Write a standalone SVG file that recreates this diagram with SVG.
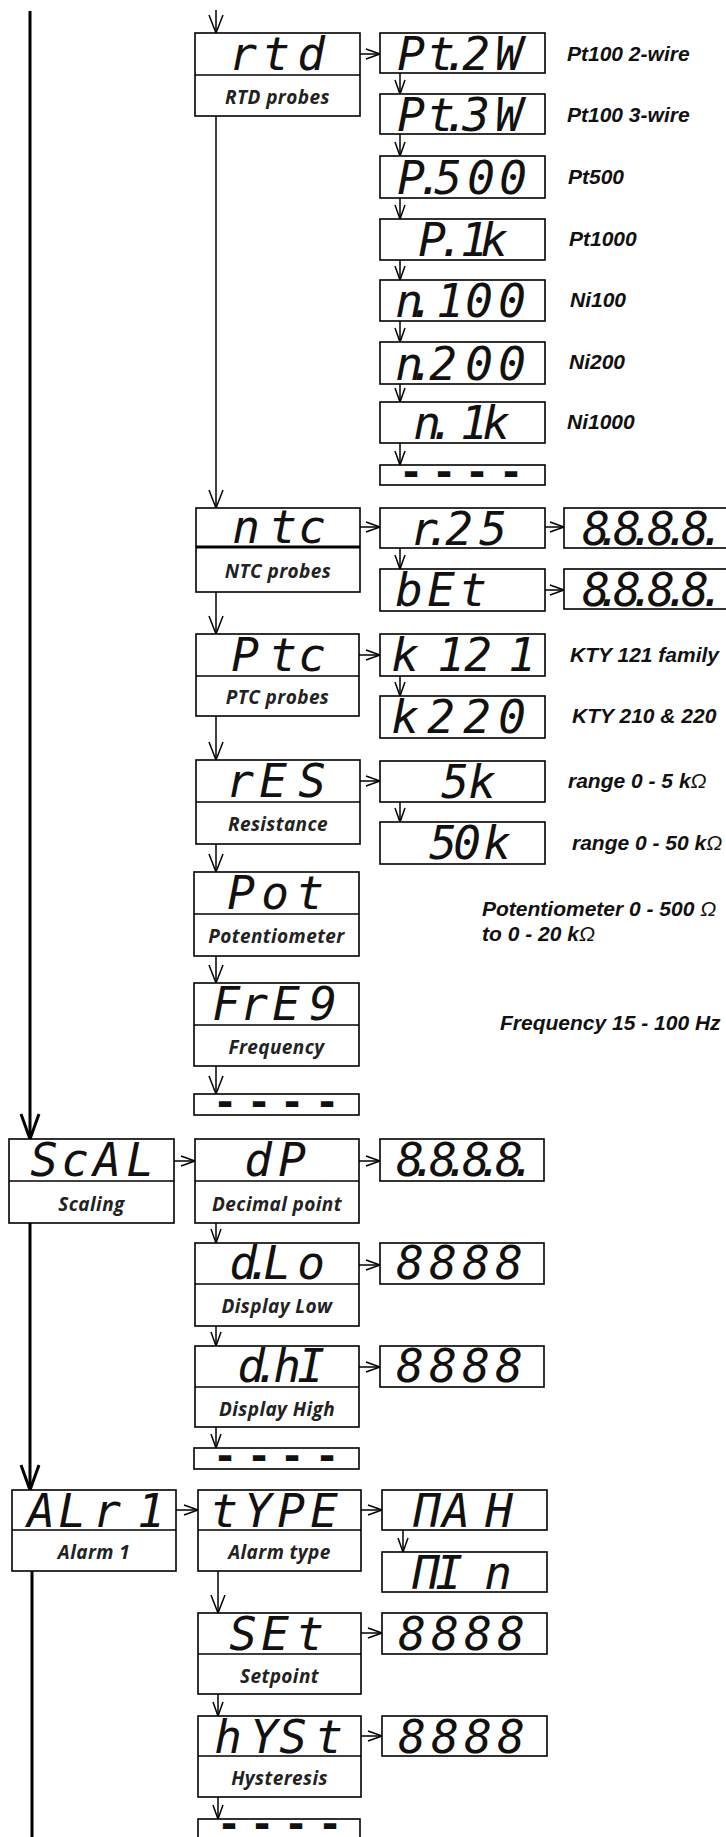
<svg xmlns="http://www.w3.org/2000/svg" width="726" height="1837" viewBox="0 0 726 1837">
<style>
.box{fill:#fff;stroke:#000;stroke-width:1.6}
.dv{stroke:#000;stroke-width:1.6}
.seg{font-family:"DejaVu Sans Mono","Liberation Mono",monospace;font-style:italic;font-size:46px;fill:#111;text-anchor:middle}
.dash{font-family:"DejaVu Sans Mono","Liberation Mono",monospace;font-weight:bold;font-size:40px;fill:#111;text-anchor:middle}
.sub{font-family:"Open Sans","Lato",sans-serif;font-style:italic;font-weight:bold;font-size:19px;letter-spacing:0.4px;fill:#222;text-anchor:middle}
.lbl{font-family:"Liberation Sans",Arial,sans-serif;font-style:italic;font-weight:bold;font-size:21px;fill:#111}
.om{font-weight:normal}
.cs{stroke:#000;stroke-width:1.5;fill:none;marker-end:url(#as)}
.cm{stroke:#000;stroke-width:1.5;fill:none;marker-end:url(#am)}
.ct{stroke:#000;stroke-width:3;fill:none}
</style>
<defs>
<marker id="as" markerUnits="userSpaceOnUse" viewBox="0 0 14 10" refX="14" refY="5" markerWidth="14" markerHeight="10" orient="auto" overflow="visible"><path d="M0,0 L14,5 L0,10" fill="none" stroke="#000" stroke-width="1.5"/></marker>
<marker id="am" markerUnits="userSpaceOnUse" viewBox="0 0 18 14" refX="18" refY="7" markerWidth="18" markerHeight="14" orient="auto" overflow="visible"><path d="M0,0 L18,7 L0,14" fill="none" stroke="#000" stroke-width="1.5"/></marker>
<marker id="al" markerUnits="userSpaceOnUse" viewBox="0 0 25 18" refX="25" refY="9" markerWidth="25" markerHeight="18" orient="auto" overflow="visible"><path d="M0,0 L25,9 L0,18" fill="none" stroke="#000" stroke-width="3"/></marker>
</defs>
<rect width="726" height="1837" fill="#fff"/>

<g id="connectors">
<line class="ct" x1="30" y1="11" x2="30" y2="1139" marker-end="url(#al)"/>
<line class="ct" x1="30" y1="1223" x2="30" y2="1490" marker-end="url(#al)"/>
<line class="ct" x1="32" y1="1571" x2="32" y2="1837"/>
<line class="cm" x1="216" y1="10" x2="216" y2="33"/>
<line class="cm" x1="216" y1="116" x2="216" y2="508"/>
<line class="cm" x1="216" y1="592" x2="216" y2="634"/>
<line class="cm" x1="216" y1="716" x2="216" y2="760"/>
<line class="cm" x1="216" y1="844" x2="216" y2="872"/>
<line class="cm" x1="216" y1="956" x2="216" y2="983"/>
<line class="cm" x1="216" y1="1066" x2="216" y2="1094"/>
<line class="cs" x1="216" y1="1223" x2="216" y2="1243"/>
<line class="cs" x1="216" y1="1326" x2="216" y2="1346"/>
<line class="cs" x1="216" y1="1427" x2="216" y2="1448"/>
<line class="cm" x1="218" y1="1571" x2="218" y2="1613"/>
<line class="cs" x1="218" y1="1694" x2="218" y2="1716"/>
<line class="cs" x1="218" y1="1797" x2="218" y2="1819"/>
<line class="cs" x1="400" y1="73" x2="400" y2="94"/>
<line class="cs" x1="400" y1="134" x2="400" y2="156"/>
<line class="cs" x1="400" y1="198" x2="400" y2="219"/>
<line class="cs" x1="400" y1="260" x2="400" y2="280"/>
<line class="cs" x1="400" y1="321" x2="400" y2="342"/>
<line class="cs" x1="400" y1="384" x2="400" y2="402"/>
<line class="cs" x1="400" y1="443" x2="400" y2="465"/>
<line class="cs" x1="400" y1="548" x2="400" y2="569"/>
<line class="cs" x1="400" y1="676" x2="400" y2="696"/>
<line class="cs" x1="400" y1="802" x2="400" y2="822"/>
<line class="cs" x1="403" y1="1530" x2="403" y2="1552"/>
<line class="cs" x1="360" y1="54" x2="380" y2="54"/>
<line class="cs" x1="360" y1="527" x2="380" y2="527"/>
<line class="cs" x1="545" y1="527" x2="564" y2="527"/>
<line class="cs" x1="545" y1="590" x2="564" y2="590"/>
<line class="cs" x1="359" y1="655" x2="380" y2="655"/>
<line class="cs" x1="360" y1="781" x2="380" y2="781"/>
<line class="cs" x1="174" y1="1161" x2="195" y2="1161"/>
<line class="cs" x1="359" y1="1161" x2="380" y2="1161"/>
<line class="cs" x1="359" y1="1265" x2="380" y2="1265"/>
<line class="cs" x1="359" y1="1367" x2="380" y2="1367"/>
<line class="cs" x1="176" y1="1510" x2="198" y2="1510"/>
<line class="cs" x1="361" y1="1510" x2="382" y2="1510"/>
<line class="cs" x1="361" y1="1633" x2="382" y2="1633"/>
<line class="cs" x1="361" y1="1736" x2="382" y2="1736"/>
</g>

<g id="n-rtd"><rect class="box" x="195" y="33" width="165" height="83"/><line class="dv" x1="195" y1="75" x2="360" y2="75"/>
<text class="seg" x="243 276 311" y="70">rtd</text><text class="sub" x="277.5" y="104">RTD probes</text></g>
<g id="n-pt2w"><rect class="box" x="380" y="33" width="165" height="40"/><text class="seg" x="411 441 456 476 509" y="70">Pt.2W</text></g>
<g id="n-pt3w"><rect class="box" x="380" y="94" width="165" height="40"/><text class="seg" x="411 441 456 476 509" y="131">Pt.3W</text></g>
<g id="n-p500"><rect class="box" x="380" y="156" width="165" height="42"/><text class="seg" x="411 430 448 481 513" y="194">P.500</text></g>
<g id="n-p1k"><rect class="box" x="380" y="219" width="165" height="41"/><text class="seg" x="432 451 474 494" y="256">P.1k</text></g>
<g id="n-n100"><rect class="box" x="380" y="280" width="165" height="41"/><text class="seg" x="409 422 450 479 512" y="317">n.100</text></g>
<g id="n-n200"><rect class="box" x="380" y="342" width="165" height="42"/><text class="seg" x="409 422 443 479 512" y="380">n.200</text></g>
<g id="n-n1k"><rect class="box" x="380" y="402" width="165" height="41"/><text class="seg" x="427 442 474 496" y="439">n.1k</text></g>
<g id="n-end-rtd"><rect class="box" x="380" y="465" width="165" height="20"/><text class="dash" x="411 444 477 511" y="486">----</text></g>
<g id="lbl-rtd">
<text class="lbl" x="567" y="61">Pt100 2-wire</text>
<text class="lbl" x="567" y="122">Pt100 3-wire</text>
<text class="lbl" x="568" y="184">Pt500</text>
<text class="lbl" x="569" y="246">Pt1000</text>
<text class="lbl" x="570" y="307">Ni100</text>
<text class="lbl" x="569" y="369">Ni200</text>
<text class="lbl" x="567" y="429">Ni1000</text>
</g>

<g id="n-ntc"><rect class="box" x="196" y="508" width="164" height="84"/><line x1="196" y1="547" x2="360" y2="547" stroke="#000" stroke-width="3"/>
<text class="seg" x="246 283 312" y="543">ntc</text><text class="sub" x="278" y="578">NTC probes</text></g>
<g id="n-r25"><rect class="box" x="380" y="508" width="165" height="40"/><text class="seg" x="424 438 459 493" y="545">r.25</text></g>
<g id="n-r25v"><rect class="box" x="564" y="508" width="170" height="40"/><text class="seg" x="596 609 627 642 661 677 695 712" y="545">8.8.8.8.</text></g>
<g id="n-bet"><rect class="box" x="380" y="569" width="165" height="42"/><text class="seg" x="409 441 473" y="606">bEt</text></g>
<g id="n-betv"><rect class="box" x="564" y="569" width="170" height="40"/><text class="seg" x="596 609 627 642 661 677 695 712" y="606">8.8.8.8.</text></g>

<g id="n-ptc"><rect class="box" x="196" y="634" width="163" height="82"/><line class="dv" x1="196" y1="676" x2="359" y2="676"/>
<text class="seg" x="245 283 312" y="671">Ptc</text><text class="sub" x="277.5" y="704">PTC probes</text></g>
<g id="n-k121"><rect class="box" x="380" y="634" width="165" height="42"/><text class="seg" x="405 451 478 522" y="671">k121</text></g>
<g id="n-k220"><rect class="box" x="380" y="696" width="165" height="42"/><text class="seg" x="405 441 477 512" y="733">k220</text></g>
<g id="lbl-ptc">
<text class="lbl" x="570" y="662">KTY 121 family</text>
<text class="lbl" x="572" y="723">KTY 210 &amp; 220</text>
</g>

<g id="n-res"><rect class="box" x="196" y="760" width="164" height="84"/><line class="dv" x1="196" y1="802" x2="360" y2="802"/>
<text class="seg" x="240 273 312" y="797">rES</text><text class="sub" x="278" y="831">Resistance</text></g>
<g id="n-5k"><rect class="box" x="380" y="761" width="165" height="41"/><text class="seg" x="455 482" y="798">5k</text></g>
<g id="n-50k"><rect class="box" x="380" y="822" width="165" height="42"/><text class="seg" x="443 467 497" y="859">50k</text></g>
<g id="lbl-res">
<text class="lbl" x="568" y="788">range 0 - 5 k<tspan class="om">Ω</tspan></text>
<text class="lbl" x="572" y="850">range 0 - 50 k<tspan class="om">Ω</tspan></text>
</g>

<g id="n-pot"><rect class="box" x="194" y="872" width="165" height="84"/><line class="dv" x1="194" y1="914" x2="359" y2="914"/>
<text class="seg" x="241 275 310" y="909">Pot</text><text class="sub" x="276.5" y="943">Potentiometer</text></g>
<g id="lbl-pot">
<text class="lbl" x="482" y="916">Potentiometer 0 - 500 <tspan class="om">Ω</tspan></text>
<text class="lbl" x="482" y="941">to 0 - 20 k<tspan class="om">Ω</tspan></text>
</g>

<g id="n-freq"><rect class="box" x="194" y="983" width="165" height="83"/><line class="dv" x1="194" y1="1025" x2="359" y2="1025"/>
<text class="seg" x="226 254 286 323" y="1020">FrE9</text><text class="sub" x="276.5" y="1054">Frequency</text></g>
<text id="lbl-freq" class="lbl" x="500" y="1030">Frequency 15 - 100 Hz</text>
<g id="n-end-in"><rect class="box" x="194" y="1094" width="165" height="21"/><text class="dash" x="225 259 292 327" y="1116">----</text></g>

<g id="n-scal"><rect class="box" x="9" y="1139" width="165" height="84"/><line class="dv" x1="9" y1="1181" x2="174" y2="1181"/>
<text class="seg" x="44 75 107 140" y="1176">ScAL</text><text class="sub" x="91.5" y="1211">Scaling</text></g>
<g id="n-dp"><rect class="box" x="195" y="1139" width="164" height="84"/><line class="dv" x1="195" y1="1181" x2="359" y2="1181"/>
<text class="seg" x="258 292" y="1176">dP</text><text class="sub" x="277" y="1211">Decimal point</text></g>
<g id="n-dpv"><rect class="box" x="380" y="1139" width="164" height="42"/><text class="seg" x="410 424 443 457 476 490 509 523" y="1176">8.8.8.8.</text></g>
<g id="n-dlo"><rect class="box" x="195" y="1243" width="164" height="83"/><line class="dv" x1="195" y1="1284" x2="359" y2="1284"/>
<text class="seg" x="243 259 277 311" y="1279">d.Lo</text><text class="sub" x="277" y="1313">Display Low</text></g>
<g id="n-dlov"><rect class="box" x="380" y="1243" width="164" height="41"/><text class="seg" x="410 443 476 509" y="1279">8888</text></g>
<g id="n-dhi"><rect class="box" x="195" y="1346" width="164" height="81"/><line class="dv" x1="195" y1="1387" x2="359" y2="1387"/>
<text class="seg" x="251 267 287 311" y="1382">d.hI</text><text class="sub" x="277" y="1416">Display High</text></g>
<g id="n-dhiv"><rect class="box" x="380" y="1346" width="164" height="41"/><text class="seg" x="410 443 476 509" y="1382">8888</text></g>
<g id="n-end-sc"><rect class="box" x="194" y="1448" width="165" height="21"/><text class="dash" x="225 259 292 327" y="1470">----</text></g>

<g id="n-alr1"><rect class="box" x="12" y="1490" width="164" height="81"/><line class="dv" x1="12" y1="1530" x2="176" y2="1530"/>
<text class="seg" x="41 72 107 151" y="1527">ALr1</text><text class="sub" x="94" y="1559">Alarm 1</text></g>
<g id="n-type"><rect class="box" x="198" y="1490" width="163" height="81"/><line class="dv" x1="198" y1="1530" x2="361" y2="1530"/>
<text class="seg" x="224 258 291 324" y="1527">tYPE</text><text class="sub" x="279.5" y="1559">Alarm type</text></g>
<g id="n-max"><rect class="box" x="382" y="1490" width="165" height="40"/><text class="seg" x="427 456 499" y="1527">ΠAH</text></g>
<g id="n-min"><rect class="box" x="382" y="1552" width="165" height="40"/><text class="seg" x="426 449 498" y="1589">ΠIn</text></g>
<g id="n-set"><rect class="box" x="198" y="1613" width="163" height="81"/><line class="dv" x1="198" y1="1654" x2="361" y2="1654"/>
<text class="seg" x="243 275 310" y="1650">SEt</text><text class="sub" x="279.5" y="1683">Setpoint</text></g>
<g id="n-setv"><rect class="box" x="382" y="1613" width="165" height="41"/><text class="seg" x="412 445 478 511" y="1650">8888</text></g>
<g id="n-hyst"><rect class="box" x="198" y="1716" width="163" height="81"/><line class="dv" x1="198" y1="1756" x2="361" y2="1756"/>
<text class="seg" x="228 264 293 329" y="1753">hYSt</text><text class="sub" x="279.5" y="1785">Hysteresis</text></g>
<g id="n-hystv"><rect class="box" x="382" y="1716" width="165" height="40"/><text class="seg" x="412 445 478 511" y="1753">8888</text></g>
<g id="n-end-al"><rect class="box" x="198" y="1819" width="162" height="25"/><text class="dash" x="229 262 296 330" y="1838">----</text></g>
</svg>
